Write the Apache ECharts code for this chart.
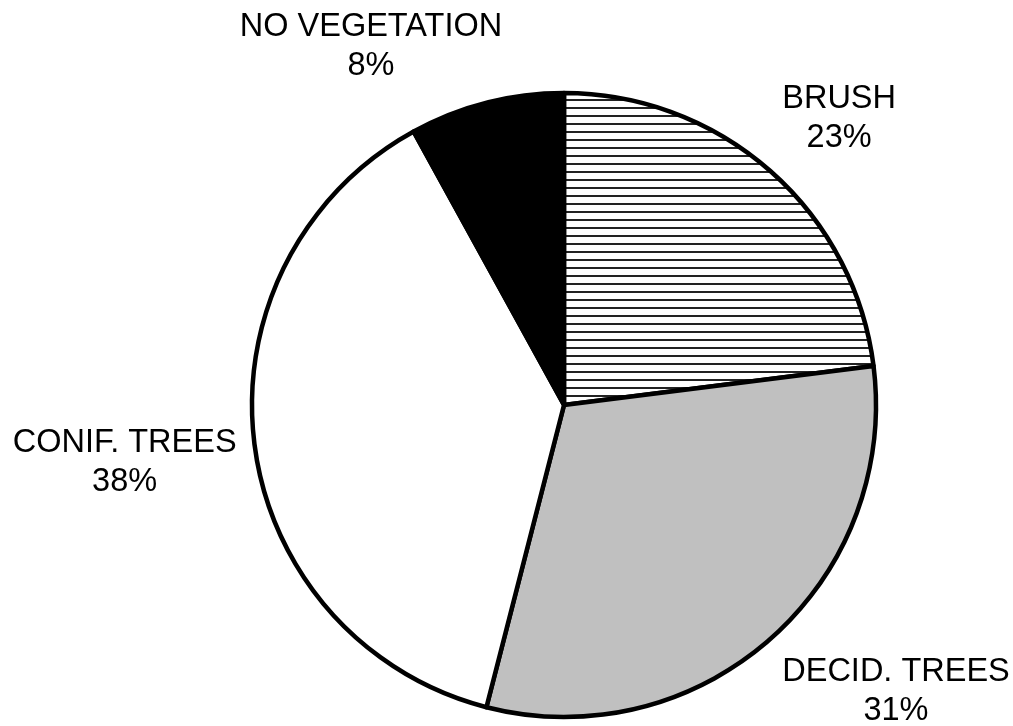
<!DOCTYPE html>
<html>
<head>
<meta charset="utf-8">
<script src="https://cdn.jsdelivr.net/npm/echarts@6/dist/echarts.min.js"></script>
<style>
  html, body { margin: 0; padding: 0; background: #fff; }
  #main { width: 1013px; height: 726px; }
</style>
</head>
<body>
<div id="main"></div>
<script>
// land cover shares, clockwise from 12 o'clock
var categories = ['BRUSH', 'DECID. TREES', 'CONIF. TREES', 'NO VEGETATION'];
var shares = [23, 31, 38, 8];

var CX = 564, CY = 405, R = 312;

// horizontal hatch for the brush slice
function hatch() {
    var c = document.createElement('canvas');
    c.width = 8; c.height = 8;
    var ctx = c.getContext('2d');
    ctx.fillStyle = '#fff';
    ctx.fillRect(0, 0, 8, 8);
    ctx.fillStyle = '#222';
    ctx.fillRect(0, 3, 8, 2);
    return c;
}

var fills = [
    { image: hatch(), repeat: 'repeat' },
    '#c0c0c0',
    '#ffffff',
    '#000000'
];

var total = shares.reduce(function (a, b) { return a + b; }, 0);
var midAngles = [];
var acc = 0;
shares.forEach(function (v) {
    midAngles.push((acc + v / 2) / total * Math.PI * 2);
    acc += v;
});

var chart = echarts.init(document.getElementById('main'));
chart.setOption({
    animation: false,
    series: [{
        type: 'pie',
        center: [CX, CY],
        radius: R,
        startAngle: 90,
        clockwise: true,
        avoidLabelOverlap: false,
        itemStyle: { borderColor: '#000', borderWidth: 4.5 },
        emphasis: { disabled: true },
        label: {
            show: true,
            position: 'outside',
            formatter: function (p) { return p.name + '\n' + p.value + '%'; },
            fontFamily: 'Liberation Sans, Arial, sans-serif',
            fontSize: 32.5,
            lineHeight: 39,
            color: '#000',
            align: 'center'
        },
        labelLine: { show: false },
        labelLayout: function (p) {
            // put the label box just outside the rim, touching the ray through the slice middle
            var a = midAngles[p.dataIndex];
            var d = R + 18;
            var ax = CX + d * Math.sin(a), ay = CY - d * Math.cos(a);
            var k = 3.4;
            var sx = Math.max(-1, Math.min(1, Math.sin(a) * k));
            var sy = Math.max(-1, Math.min(1, -Math.cos(a) * k));
            var w = p.labelRect.width, h = p.labelRect.height;
            return {
                x: ax + sx * w / 2,
                y: ay + sy * h / 2,
                align: 'center',
                verticalAlign: 'middle'
            };
        },
        data: categories.map(function (c, i) {
            return { name: c, value: shares[i], itemStyle: { color: fills[i] } };
        })
    }]
});
</script>
</body>
</html>
